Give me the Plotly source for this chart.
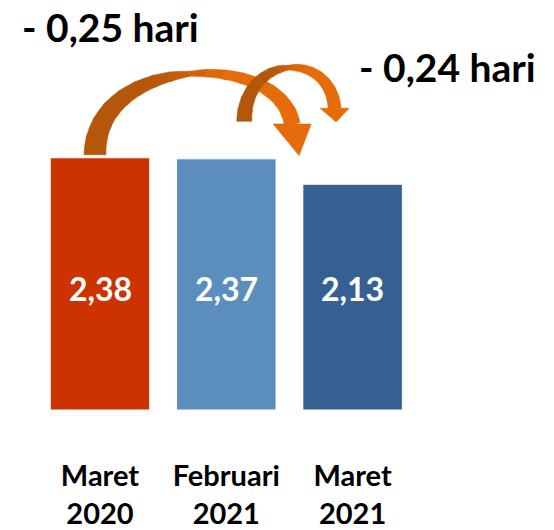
import numpy as np
import plotly.graph_objects as go

categories = ["Maret<br>2020", "Februari<br>2021", "Maret<br>2021"]
values = [2.38, 2.37, 2.13]
value_labels = ["2,38", "2,37", "2,13"]
bar_colors = ["#CC3300", "#5B8DBD", "#376092"]
change_labels = ["- 0,25 hari", "- 0,24 hari"]

# page has an 8px body margin; figure is placed at (8, 8)
OFF = 8
W, H = 554 - OFF, 530 - OFF
BASE_PX = 415            # page y of the bar baseline
PLOT_H = BASE_PX - OFF   # plot area height in figure pixels
PX_PER_CAT = 126.3
CAT0_PX = 100            # page x of the first category centre
PX_PER_UNIT = 107.3
X_RANGE = [(OFF - CAT0_PX) / PX_PER_CAT, (OFF + W - CAT0_PX) / PX_PER_CAT]
Y_RANGE = [0, PLOT_H / PX_PER_UNIT]
DARK = np.array([181, 87, 11])
ORANGE = np.array([228, 108, 10])


def data_to_px(x, v):
    """data -> page pixels"""
    px = OFF + (x - X_RANGE[0]) / (X_RANGE[1] - X_RANGE[0]) * W
    py = OFF + PLOT_H * (1 - v / Y_RANGE[1])
    return np.array([px, py])


def to_paper(p):
    return (p[0] - OFF) / W, 1 - (p[1] - OFF) / PLOT_H


def path_of(points):
    s = "M " + " L ".join(f"{to_paper(p)[0]:.5f},{to_paper(p)[1]:.5f}" for p in points)
    return s + " Z"


def arrow_shapes(P, w0, wm, w1, head_half, tip, tm=0.5, n=80):
    P = [np.array(p, dtype=float) for p in P]
    ts = np.linspace(0, 1, n)

    def bez(t):
        return ((1 - t) ** 3) * P[0] + 3 * ((1 - t) ** 2) * t * P[1] + 3 * (1 - t) * t * t * P[2] + t ** 3 * P[3]

    def dbez(t):
        return 3 * ((1 - t) ** 2) * (P[1] - P[0]) + 6 * (1 - t) * t * (P[2] - P[1]) + 3 * t * t * (P[3] - P[2])

    def width(t):
        if t <= tm:
            return wm + (w0 - wm) * ((tm - t) / tm) ** 0.6
        return wm + (w1 - wm) * ((t - tm) / (1 - tm)) ** 0.6

    left, right = [], []
    for t in ts:
        c = bez(t)
        d = dbez(t)
        d = d / np.linalg.norm(d)
        nrm = np.array([d[1], -d[0]])
        w = width(t)
        left.append(c + nrm * w / 2)
        right.append(c - nrm * w / 2)
    shapes = []
    segs = 16
    for k in range(segs):
        a = int(k * (n - 1) / segs)
        b = min(n - 1, int((k + 1) * (n - 1) / segs) + 1)
        tmid = (ts[a] + ts[b]) / 2
        f = np.clip((tmid - 0.38) / 0.25, 0, 1)
        col = DARK * (1 - f) + ORANGE * f
        col = "rgb(%d,%d,%d)" % tuple(col.astype(int))
        pts = left[a:b + 1] + right[a:b + 1][::-1]
        shapes.append(dict(type="path", path=path_of(pts), xref="paper", yref="paper",
                           fillcolor=col, line=dict(color=col, width=0.6), layer="above"))
    end = P[3]
    head = [end + np.array([-head_half, 0]), end + np.array([head_half, 0]), np.array(tip, dtype=float)]
    col = "rgb(%d,%d,%d)" % tuple(ORANGE)
    shapes.append(dict(type="path", path=path_of(head), xref="paper", yref="paper",
                       fillcolor=col, line=dict(color=col, width=0.6), layer="above"))
    return shapes


fig = go.Figure()
fig.add_trace(go.Bar(
    x=categories, y=values, marker=dict(color=bar_colors, line=dict(color="white", width=1)),
    width=0.788, hoverinfo="skip",
))

top0 = data_to_px(0, values[0])
top1 = data_to_px(1, values[1])
top2 = data_to_px(2, values[2])

shapes = []
# arrow from first bar to last bar
a0 = top0 + np.array([-5, -3])
a3 = top2 + np.array([-60.5, -61])
shapes += arrow_shapes([a0, a0 + np.array([0, -102]), a3 + np.array([-12, -75]), a3],
                       22, 4, 16, 19, top2 + np.array([-53.5, -29]))
# arrow from second bar to last bar
b0 = top1 + np.array([18, -38])
b3 = top2 + np.array([-18, -77])
shapes += arrow_shapes([b0, b0 + np.array([0, -68]), b3 + np.array([-4.5, -59]), b3],
                       15, 4, 13, 14.5, top2 + np.array([-16.5, -63]))

annotations = []
for i, (v, lab) in enumerate(zip(values, value_labels)):
    annotations.append(dict(x=i, y=1.15, xref="x", yref="y", text=lab, showarrow=False,
                            font=dict(family="Lato", size=32, color="white", weight="bold")))
for lab, (cx, cy) in zip(change_labels, [(110, 27), (447, 68)]):
    fx, fy = to_paper((cx, cy))
    annotations.append(dict(x=fx, y=fy, xref="paper", yref="paper", text=lab,
                            showarrow=False, xanchor="center", yanchor="middle",
                            font=dict(family="Lato", size=39, color="black", weight="bold")))

fig.update_layout(
    width=W, height=H, margin=dict(l=0, r=0, t=0, b=H - PLOT_H),
    paper_bgcolor="white", plot_bgcolor="white", showlegend=False,
    shapes=shapes, annotations=annotations,
    xaxis=dict(range=X_RANGE, showgrid=False, zeroline=False, showline=False,
               ticks="outside", ticklen=40, tickcolor="rgba(0,0,0,0)",
               tickfont=dict(family="Lato", size=29, color="black", weight="bold"), fixedrange=True),
    yaxis=dict(range=Y_RANGE, visible=False, fixedrange=True),
)
fig.write_html("out.html")
